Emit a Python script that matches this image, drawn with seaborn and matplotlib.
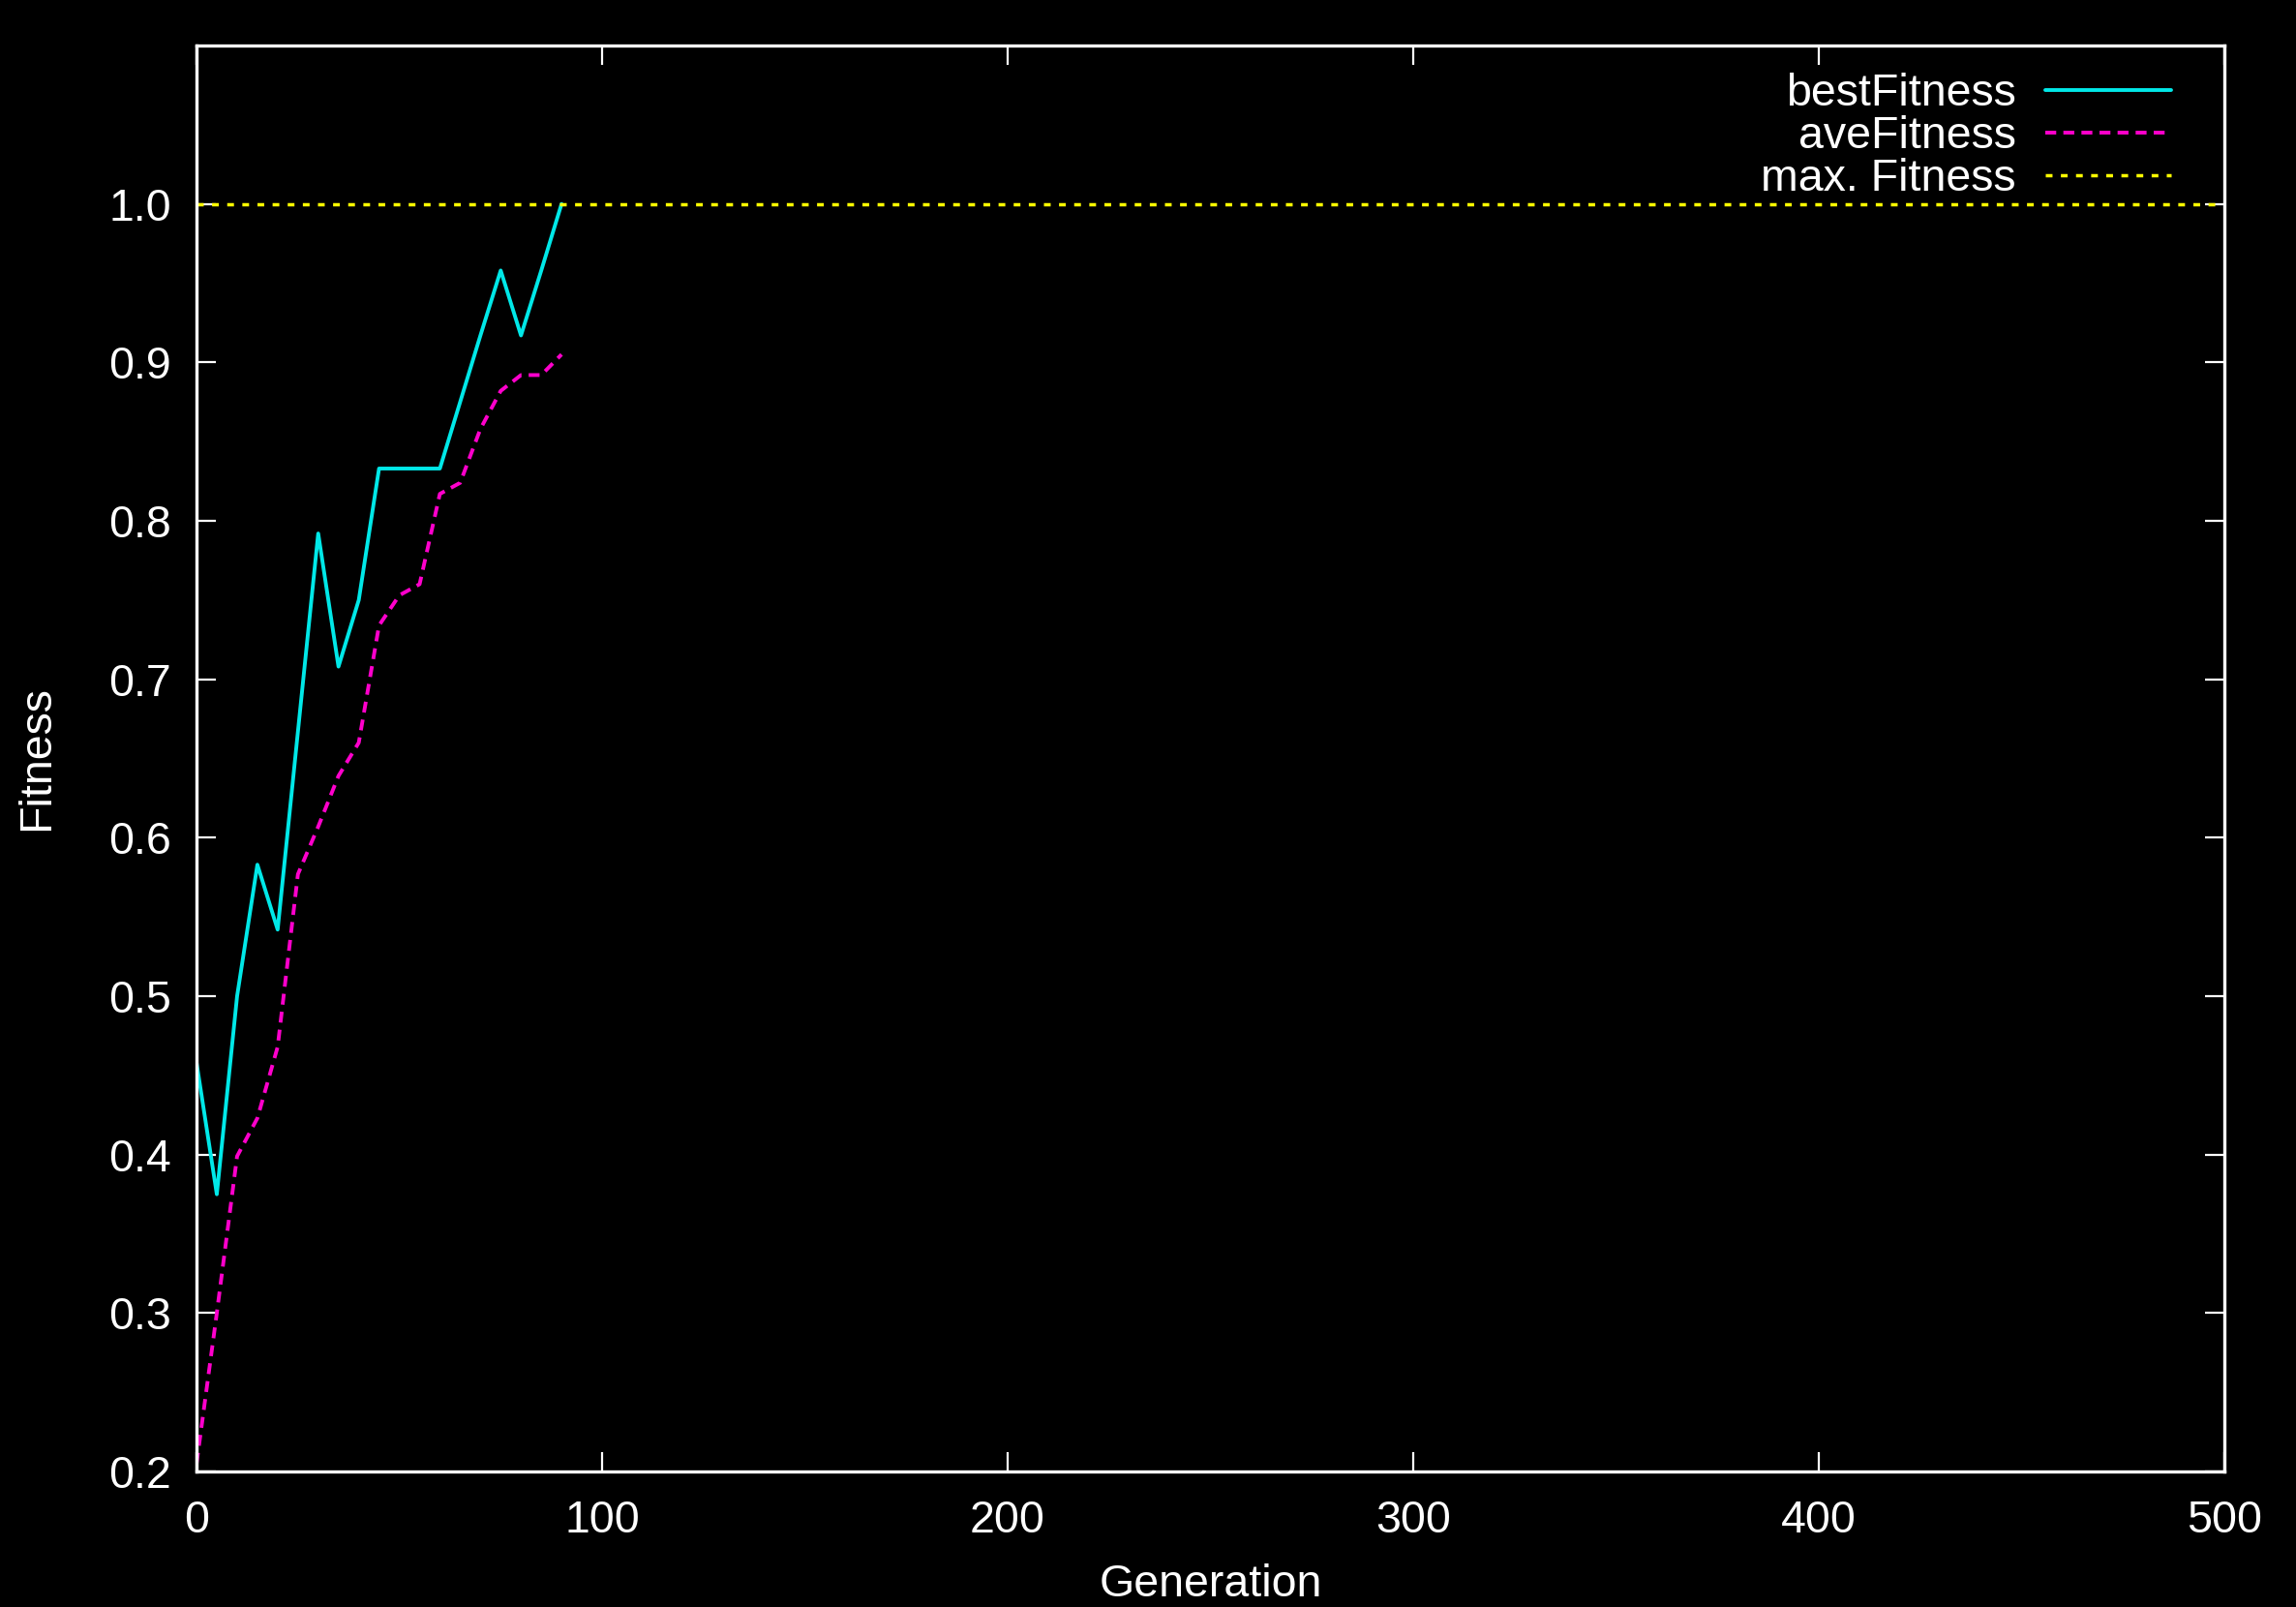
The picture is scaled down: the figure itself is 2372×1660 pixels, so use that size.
import numpy as np
import pandas as pd
import matplotlib
matplotlib.use('Agg')
import matplotlib.pyplot as plt
import seaborn as sns

generation = [0, 5, 10, 15, 20, 25, 30, 35, 40, 45, 50, 55, 60, 65, 70, 75, 80, 85, 90]
best_fitness = [0.458, 0.375, 0.5, 0.583, 0.542, 0.667, 0.792, 0.708, 0.75, 0.833,
                0.833, 0.833, 0.833, 0.875, 0.917, 0.958, 0.917, 0.958, 1.0]
ave_fitness = [0.205, 0.30, 0.399, 0.423, 0.468, 0.577, 0.607, 0.639, 0.66, 0.734,
               0.753, 0.76, 0.817, 0.824, 0.858, 0.882, 0.892, 0.892, 0.905]
max_fitness = 1.0
x_ticks = [0, 100, 200, 300, 400, 500]
y_ticks = [0.2, 0.3, 0.4, 0.5, 0.6, 0.7, 0.8, 0.9, 1.0]

df = pd.DataFrame({'Generation': generation, 'bestFitness': best_fitness, 'aveFitness': ave_fitness})

sns.set_theme(style='ticks')
plt.rcParams['font.family'] = ['Liberation Sans', 'DejaVu Sans']
plt.rcParams['figure.facecolor'] = 'black'
plt.rcParams['axes.facecolor'] = 'black'
fs = 33.5

fig = plt.figure(figsize=(23.72, 16.6), dpi=100)
ax = fig.add_axes([0.0856, 0.0843, 0.9688 - 0.0856, 0.9717 - 0.0843])

sns.lineplot(data=df, x='Generation', y='bestFitness', ax=ax, color='#00e8e8',
             linewidth=2.8, label='bestFitness')
sns.lineplot(data=df, x='Generation', y='aveFitness', ax=ax, color='#ff00cc',
             linewidth=2.8, label='aveFitness')
ax.lines[-1].set_dashes((2.9, 1.9))
ax.axhline(max_fitness, color='#ffff00', linewidth=2.5, dashes=(2.0, 2.5), label='max. Fitness')

ax.set_xlim(0, 500)
ax.set_ylim(0.2, 1.1)
ax.set_xticks(x_ticks)
ax.set_yticks(y_ticks)
ax.set_yticklabels([f'{v:.1f}' for v in y_ticks])
ax.tick_params(direction='in', length=14.4, width=1.6, colors='white', labelsize=fs,
               top=True, right=True, pad=19)
ax.tick_params(axis='x', pad=21)
for s in ax.spines.values():
    s.set_color('white')
    s.set_linewidth(2.4)

ax.set_xlabel('Generation', fontsize=fs, color='white', va='center')
ax.set_ylabel('Fitness', fontsize=fs, color='white', va='center')
ax.xaxis.set_label_coords(0.5, -0.0794)
ax.yaxis.set_label_coords(-0.0788, 0.5)

leg = ax.legend(loc='upper right', markerfirst=False, frameon=False, fontsize=fs,
                handlelength=2.8, handletextpad=0.65, labelspacing=0.0,
                borderaxespad=0.3, bbox_to_anchor=(0.9895, 1.003))
for t in leg.get_texts():
    t.set_color('white')

plt.savefig('out.png', dpi=100, facecolor='black')
